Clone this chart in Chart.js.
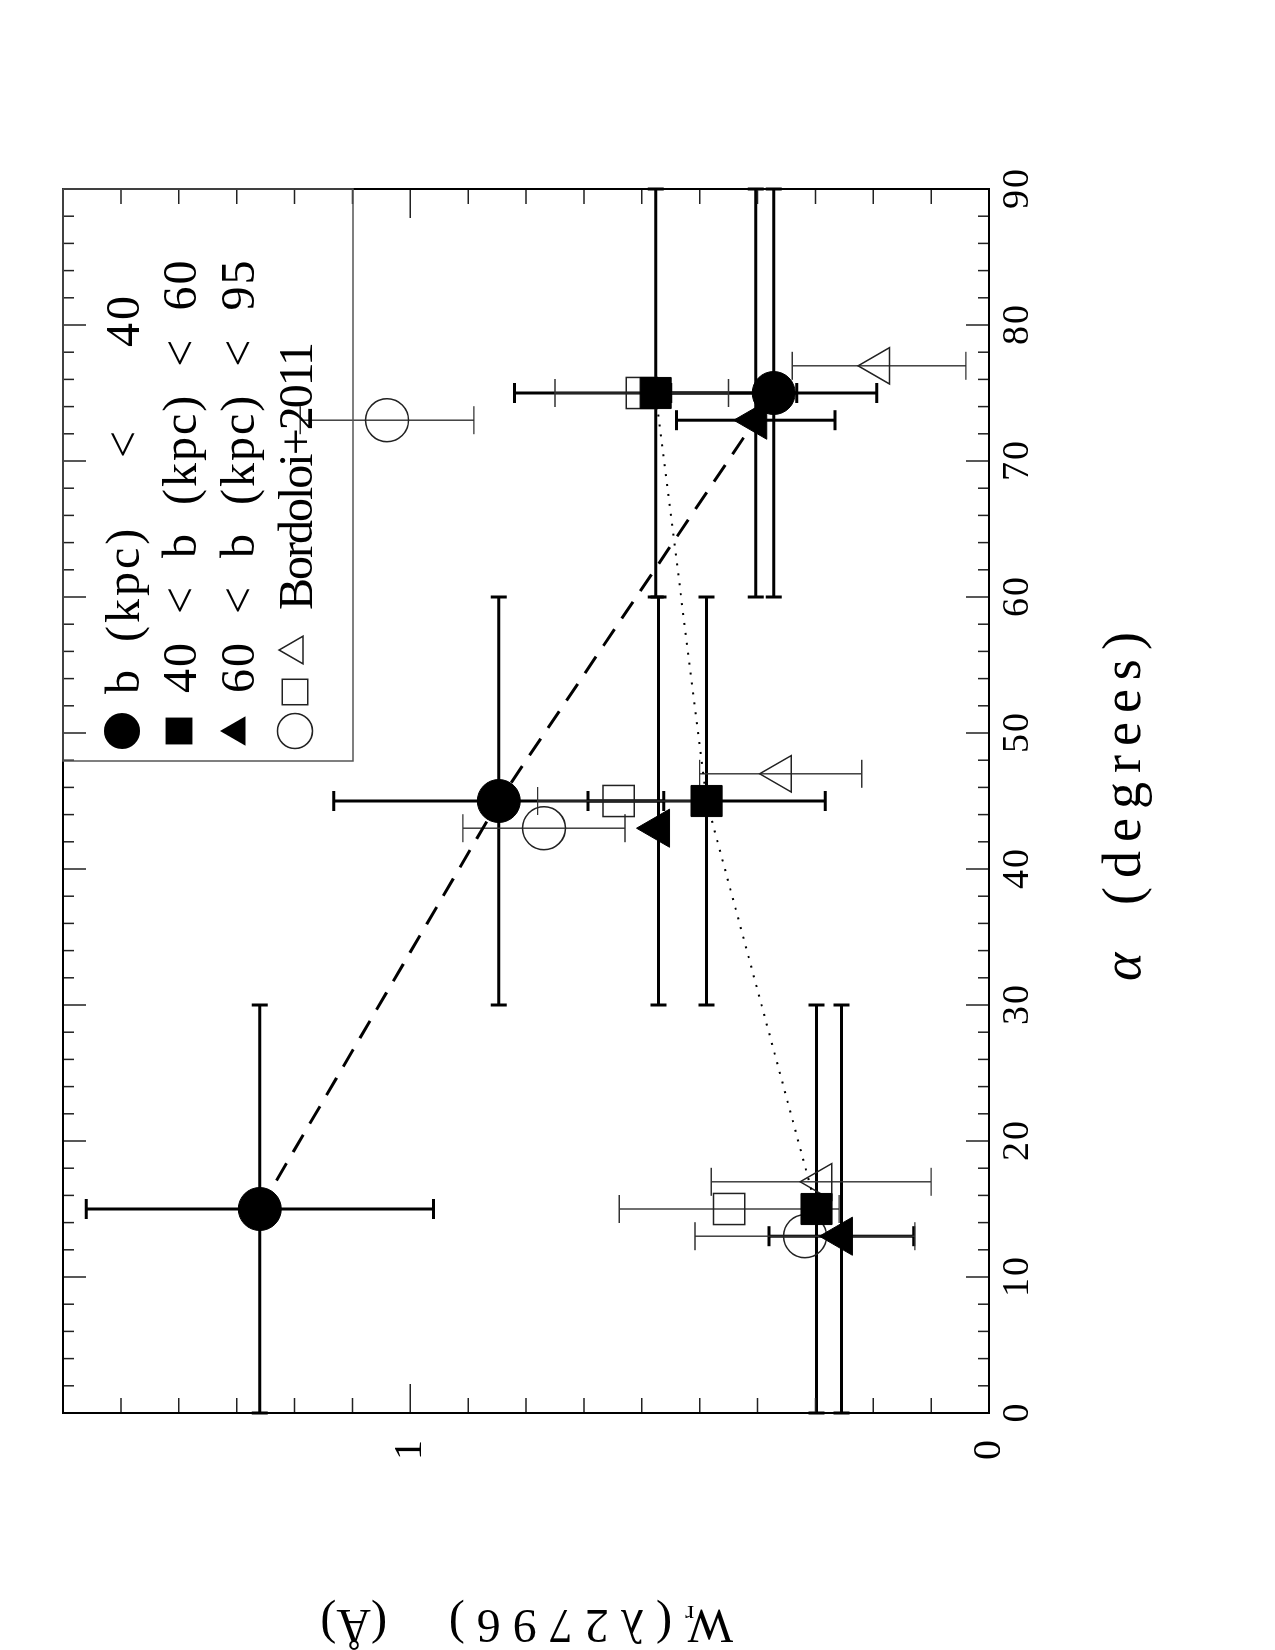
<!DOCTYPE html>
<html>
<head>
<meta charset="utf-8">
<script src="https://cdn.jsdelivr.net/npm/chart.js@4/dist/chart.umd.min.js"></script>
<style>
  html, body { margin: 0; padding: 0; background: #fff; width: 1275px; height: 1650px; overflow: hidden; }
  /* the figure is drawn landscape and turned a quarter turn, like the printed page */
  #wrap { position: absolute; left: 0; top: 0; width: 1650px; height: 1275px;
          transform-origin: 0 0; transform: translate(0, 1650px) rotate(-90deg); }
  canvas { display: block; }
</style>
</head>
<body>
<div id="wrap"><canvas id="c" width="1650" height="1275"></canvas></div>
<script>
(() => {
  const FONT = '"Liberation Serif", "DejaVu Serif", serif';

  // axis ticks
  const alphaTicks = [0, 10, 20, 30, 40, 50, 60, 70, 80, 90];
  const alphaTickLabels = ["0", "10", "20", "30", "40", "50", "60", "70", "80", "90"];
  const wTicks = [0, 1];
  const wTickLabels = ["0", "1"];

  // alpha bins used for the horizontal bars of the filled points
  const binLo = [0, 30, 60];
  const binHi = [30, 60, 90];

  // b (kpc) < 40
  const circA = [15, 45, 75];
  const circW = [1.26, 0.847, 0.372];
  const circWErr = [0.30, 0.285, 0.178];
  // 40 < b (kpc) < 60
  const sqA = [15, 45, 75];
  const sqW = [0.298, 0.488, 0.576];
  const sqWErr = [0, 0.205, 0.244];
  // 60 < b (kpc) < 95
  const triA = [13, 43, 73];
  const triW = [0.255, 0.571, 0.403];
  const triWErr = [0.125, 0, 0.137];

  // Bordoloi+2011 (open symbols)
  const bcA = [13, 43, 73];
  const bcW = [0.318, 0.769, 1.04];
  const bcErr = [0.19, 0.14, 0.15];
  const bsA = [15, 45, 75];
  const bsW = [0.449, 0.64, 0.60];
  const bsErr = [0.19, 0.14, 0.15];
  const btA = [17, 47, 77];
  const btW = [0.29, 0.36, 0.19];
  const btErr = [0.19, 0.14, 0.15];

  function pts(a, w) { return a.map((x, i) => ({ x, y: w[i] })); }

  const thick = { color: "#000", width: 3, cap: 10, acap: 8 };
  const thin = { color: "#333", width: 1.4, cap: 14, acap: 0 };

  function filled(style, r, a, w, werr, extra) {
    return Object.assign({
      data: pts(a, w),
      pointStyle: style,
      pointRadius: r,
      pointBackgroundColor: "#000",
      pointBorderColor: "#000",
      pointBorderWidth: 1,
      showLine: false,
      borderColor: "#000",
      borderWidth: 3,
      clip: false,
      errs: Object.assign({ w: werr, lo: binLo, hi: binHi }, thick),
    }, extra || {});
  }

  function open(style, r, a, w, werr) {
    return {
      data: pts(a, w),
      pointStyle: style,
      pointRadius: r,
      pointBackgroundColor: "rgba(0,0,0,0)",
      pointBorderColor: "#222",
      pointBorderWidth: 1.5,
      showLine: false,
      clip: false,
      errs: Object.assign({ w: werr }, thin),
    };
  }

  // first dataset is painted last (on top)
  const datasets = [
    filled("circle", 21.5, circA, circW, circWErr, { showLine: true, borderDash: [20, 13], borderWidth: 3 }),
    filled("rect", 22, sqA, sqW, sqWErr, { showLine: true, borderDash: [2, 8], borderWidth: 2 }),
    filled("triangle", 22, triA, triW, triWErr),
    open("circle", 21.5, bcA, bcW, bcErr),
    open("rect", 22, bsA, bsW, bsErr),
    open("triangle", 21, btA, btW, btErr),
  ];

  const errorBars = {
    id: "errorBars",
    beforeDatasetsDraw(chart) {
      const ctx = chart.ctx, xs = chart.scales.x, ys = chart.scales.y;
      for (const ds of chart.data.datasets) {
        const e = ds.errs;
        if (!e) continue;
        ctx.save();
        ctx.strokeStyle = e.color;
        ctx.lineWidth = e.width;
        ctx.lineCap = "butt";
        ds.data.forEach((p, i) => {
          const px = xs.getPixelForValue(p.x);
          const py = ys.getPixelForValue(p.y);
          ctx.beginPath();
          if (e.w && e.w[i] > 0) {
            const y1 = ys.getPixelForValue(p.y - e.w[i]);
            const y2 = ys.getPixelForValue(p.y + e.w[i]);
            ctx.moveTo(px, y1); ctx.lineTo(px, y2);
            ctx.moveTo(px - e.cap, y1); ctx.lineTo(px + e.cap, y1);
            ctx.moveTo(px - e.cap, y2); ctx.lineTo(px + e.cap, y2);
          }
          if (e.lo) {
            const x1 = xs.getPixelForValue(e.lo[i]);
            const x2 = xs.getPixelForValue(e.hi[i]);
            ctx.moveTo(x1, py); ctx.lineTo(x2, py);
            ctx.moveTo(x1, py - e.acap); ctx.lineTo(x1, py + e.acap);
            ctx.moveTo(x2, py - e.acap); ctx.lineTo(x2, py + e.acap);
          }
          ctx.stroke();
        });
        ctx.restore();
      }
    },
  };

  function marker(ctx, style, x, y, r, fill) {
    ctx.beginPath();
    if (style === "circle") {
      ctx.arc(x, y, r, 0, Math.PI * 2);
    } else if (style === "rect") {
      const s = Math.SQRT1_2 * r;
      ctx.rect(x - s, y - s, 2 * s, 2 * s);
    } else {
      const a = Math.PI * 2 / 3;
      ctx.moveTo(x, y - r);
      ctx.lineTo(x + Math.sin(a) * r, y - Math.cos(a) * r);
      ctx.lineTo(x + Math.sin(2 * a) * r, y - Math.cos(2 * a) * r);
      ctx.closePath();
    }
    if (fill) { ctx.fillStyle = "#000"; ctx.fill(); }
    else { ctx.strokeStyle = "#222"; ctx.lineWidth = 1.5; ctx.stroke(); }
  }

  // legend rows; row 1 is set out word by word like the original
  const legendRows = [
    { v: 122, marks: [["circle", 919, 18, true]], ls: 3, ws: 0,
      tokens: [["b", 956], ["(kpc)", 1008], ["<", 1192], ["40", 1303]] },
    { v: 179, marks: [["rect", 919, 19, true]], ls: 2, ws: 13,
      tokens: [["40 < b (kpc) < 60", 957]] },
    { v: 237, marks: [["triangle", 919, 17, true]], ls: 2, ws: 13,
      tokens: [["60 < b (kpc) < 95", 957]] },
    { v: 295, marks: [["circle", 919, 17.5, false], ["rect", 958, 18, false], ["triangle", 1000, 16, false]],
      ls: -2, ws: 0, tokens: [["Bordoloi+2011", 1040]] },
  ];

  const frame = {
    id: "frame",
    afterDatasetsDraw(chart) {
      const ctx = chart.ctx, xs = chart.scales.x, ys = chart.scales.y;
      const ca = chart.chartArea;
      ctx.save();

      // ticks on all four sides, pointing inward
      ctx.strokeStyle = "#222";
      ctx.lineWidth = 1.5;
      ctx.beginPath();
      for (let a = 0; a <= 90; a += 2) {
        const x = xs.getPixelForValue(a);
        const len = a % 10 === 0 ? 23 : 11;
        ctx.moveTo(x, ca.bottom); ctx.lineTo(x, ca.bottom - len);
        ctx.moveTo(x, ca.top); ctx.lineTo(x, ca.top + len);
      }
      for (let k = 0; k <= 16; k++) {
        const y = ys.getPixelForValue(k / 10);
        const len = k % 10 === 0 ? 29 : 15;
        ctx.moveTo(ca.left, y); ctx.lineTo(ca.left + len, y);
        ctx.moveTo(ca.right, y); ctx.lineTo(ca.right - len, y);
      }
      ctx.stroke();

      // frame
      ctx.strokeStyle = "#000";
      ctx.lineWidth = 2;
      ctx.strokeRect(ca.left, ca.top, ca.right - ca.left, ca.bottom - ca.top);

      // tick labels
      ctx.fillStyle = "#000";
      ctx.font = "38px " + FONT;
      ctx.letterSpacing = "2px";
      ctx.textAlign = "center";
      ctx.textBaseline = "alphabetic";
      alphaTicks.forEach((a, i) => {
        ctx.fillText(alphaTickLabels[i], xs.getPixelForValue(a) + 1, ca.bottom + 39);
      });
      ctx.font = "40px " + FONT;
      ctx.letterSpacing = "0px";
      ctx.textAlign = "right";
      ctx.textBaseline = "middle";
      wTicks.forEach((w, i) => {
        ctx.fillText(wTickLabels[i], ca.left - 27, ys.getPixelForValue(w));
      });

      // x title: alpha (degrees)
      const cx = (ca.left + ca.right) / 2;
      ctx.textBaseline = "alphabetic";
      ctx.textAlign = "left";
      ctx.font = "italic 54px " + FONT;
      ctx.fillText("\u03b1", cx - 180, ca.bottom + 151);
      ctx.font = "54px " + FONT;
      ctx.letterSpacing = "9px";
      ctx.fillText("(degrees)", cx - 104, ca.bottom + 151);

      // y title: W_r(lambda2796) (A)
      ctx.save();
      ctx.translate(40, (ca.top + ca.bottom) / 2 + 2);
      ctx.rotate(-Math.PI / 2);
      ctx.letterSpacing = "0px";
      ctx.font = "48px " + FONT;
      ctx.fillText("W", -205, 0);
      ctx.font = "26px " + FONT;
      ctx.fillText("r", -166, 4);
      ctx.font = "48px " + FONT;
      ctx.letterSpacing = "12px";
      ctx.fillText("(\u03bb2796)", -144, 0);
      ctx.letterSpacing = "0px";
      ctx.fillText("(\u00c5)", 141, 0);
      ctx.restore();

      // legend box
      ctx.strokeStyle = "#555";
      ctx.lineWidth = 1.5;
      ctx.strokeRect(889, ca.top, ca.right - 889, 353 - ca.top);
      ctx.font = "48px " + FONT;
      ctx.textBaseline = "alphabetic";
      for (const row of legendRows) {
        for (const m of row.marks) marker(ctx, m[0], m[1], row.v, m[2], m[3]);
        ctx.fillStyle = "#000";
        ctx.letterSpacing = row.ls + "px";
        ctx.wordSpacing = row.ws + "px";
        for (const t of row.tokens) ctx.fillText(t[0], t[1], row.v + 17);
      }
      ctx.letterSpacing = "0px";
      ctx.wordSpacing = "0px";
      ctx.restore();
    },
  };

  new Chart(document.getElementById("c").getContext("2d"), {
    type: "scatter",
    data: { datasets },
    options: {
      responsive: false,
      animation: false,
      events: [],
      devicePixelRatio: 1,
      layout: { padding: { left: 237, right: 189, top: 63, bottom: 286 } },
      plugins: { legend: { display: false }, tooltip: { enabled: false } },
      scales: {
        x: { type: "linear", min: 0, max: 90, display: false },
        y: { type: "linear", min: 0, max: 1.6, display: false },
      },
    },
    plugins: [errorBars, frame],
  });
})();
</script>
</body>
</html>
